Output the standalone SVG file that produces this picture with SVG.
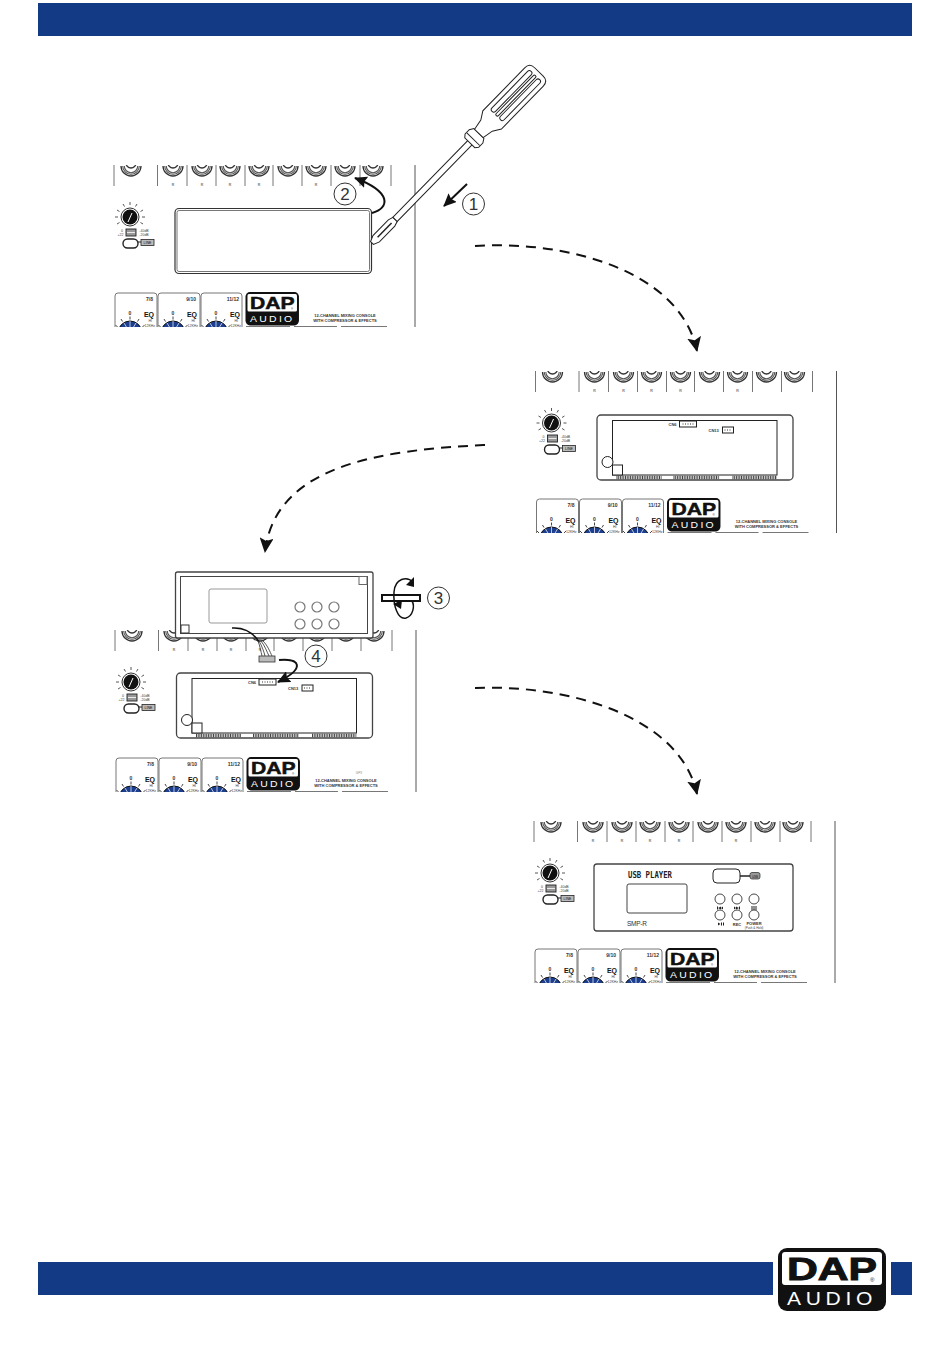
<svg xmlns="http://www.w3.org/2000/svg" xmlns:xlink="http://www.w3.org/1999/xlink" width="950" height="1369" viewBox="0 0 950 1369">
<style>
text{font-family:"Liberation Sans",Arial,sans-serif;fill:#222}
.bar{fill:#133a85}
.tick{stroke:#777;stroke-width:1;fill:none}
.long{stroke:#555;stroke-width:1;fill:none}
.jk{fill:none;stroke:#555;stroke-width:1.100}
.jkd{fill:none;stroke:#333;stroke-width:1.300}
.t3{font-size:3.500px;fill:#444}
.t4{font-size:4px;font-weight:bold;fill:#333}
.t5{font-size:5px;font-weight:bold;fill:#333}
.eq{font-size:7px;font-weight:bold;fill:#111}
.outer{fill:#fff;stroke:#444;stroke-width:1.300}
.inner{fill:#fff;stroke:#222;stroke-width:1}
.strip{fill:none;stroke:#444;stroke-width:3.500;stroke-dasharray:1 .7}
.num{fill:#fff;stroke:#333;stroke-width:1}
.numt{font-family:"Liberation Sans",Arial,sans-serif;font-size:17px;text-anchor:middle;fill:#333}
.btn{fill:#fff;stroke:#777;stroke-width:1.200}
.ubtn{fill:#fff;stroke:#333;stroke-width:.9}
.ico{fill:#222}
.dash{fill:none;stroke:#111;stroke-width:2;stroke-dasharray:10 7}
.arr{fill:none;stroke:#111;stroke-width:2}
.sd{fill:#fff;stroke:#222;stroke-width:1}
</style>
<defs>
<marker id="head" markerUnits="userSpaceOnUse" markerWidth="16" markerHeight="14" refX="14" refY="7" orient="auto"><path d="M0 0L15 7L0 14L3 7Z" fill="#111"/></marker>
<marker id="head2" markerUnits="userSpaceOnUse" markerWidth="14" markerHeight="12" refX="12" refY="6" orient="auto"><path d="M0 0L13 6L0 12L2 6Z" fill="#111"/></marker>
<clipPath id="panelclip"><rect x="110" y="165" width="310" height="162"/></clipPath>
<g id="jack"><path class="jkd" d="M-10 1A10 10 0 0 0 10 1"/><path class="jk" d="M-8.300 1A8.300 8.300 0 0 0 8.300 1M-6.700 1A6.700 6.700 0 0 0 6.700 1"/><path class="jkd" d="M-5 -2A5 5 0 1 0 5 -2"/></g>
<g id="logo">
<rect x="0" y="0" width="108" height="63" rx="9" fill="#111"/>
<rect x="4" y="4" width="100" height="33" rx="3" fill="#fff"/>
<text x="9" y="32" font-size="32" font-weight="bold" textLength="90" lengthAdjust="spacingAndGlyphs" style="fill:#111;stroke:#111;stroke-width:1">DAP</text>
<text x="92" y="34" font-size="6" style="fill:#111">®</text>
<text x="9" y="57" font-size="18" textLength="90" lengthAdjust="spacingAndGlyphs" style="fill:#fff;letter-spacing:4px">AUDIO</text>
</g>
<g id="eqknob">
<circle cx="0" cy="20" r="12" fill="#1d3f8f" stroke="#111" stroke-width="1"/>
<path d="M0 8V20M-6 10L0 20M6 10L0 20" stroke="#fff" stroke-width=".7"/>
<path d="M0 3.500V6.500M-9 6L-7.500 8.500M9 6L7.500 8.500M-14.500 12L-12.500 14M14.500 12L12.500 14" stroke="#333" stroke-width=".9"/>
<text x="0" y="2" class="t5" text-anchor="middle">0</text>
</g>
<g id="console">
<g clip-path="url(#panelclip)">
<path class="tick" d="M114 165V186M157.500 165V186M187 165V186M216 165V186M245 165V186M273 165V186M302 165V186M331 165V186M360 165V186M391 165V186"/>
<path class="long" d="M415 165V327"/>
<use href="#jack" x="131" y="165"/><use href="#jack" x="173" y="165"/><use href="#jack" x="202" y="165"/><use href="#jack" x="230" y="165"/><use href="#jack" x="259" y="165"/><use href="#jack" x="288" y="165"/><use href="#jack" x="316" y="165"/><use href="#jack" x="345" y="165"/><use href="#jack" x="373" y="165"/>
<g class="t3" text-anchor="middle"><text x="173" y="186">R</text><text x="202" y="186">R</text><text x="230" y="186">R</text><text x="259" y="186">R</text><text x="316" y="186">R</text></g>
<circle cx="130" cy="217" r="9" fill="#fff" stroke="#333" stroke-width="1"/>
<circle cx="130" cy="217" r="7.500" fill="#111"/>
<path d="M128 222L132 213" stroke="#fff" stroke-width="1"/>
<path d="M130 202V205M137 204L135.500 206.500M143 210L140.500 211.500M145 217H142M143 224L140.500 222.500M123 204L124.500 206.500M117 210L119.500 211.500M115 217H118M117 224L119.500 222.500" stroke="#444" stroke-width=".9"/>
<rect x="126" y="229" width="10" height="7" fill="#999" stroke="#222" stroke-width=".9"/>
<path d="M127 232.500H135" stroke="#fff" stroke-width=".8"/>
<text x="122" y="231.500" class="t3" text-anchor="middle">0</text>
<text x="120.500" y="235.500" class="t3" text-anchor="middle">+22</text>
<text x="144" y="231.500" class="t3" text-anchor="middle">-40dB</text>
<text x="144" y="235.500" class="t3" text-anchor="middle">-20dB</text>
<rect x="123" y="239" width="15" height="9" rx="4.500" fill="#fff" stroke="#222" stroke-width="1.400"/>
<path d="M138 242H141" stroke="#222" stroke-width="1"/>
<rect x="141" y="239.500" width="13" height="6" fill="#bbb" stroke="#222" stroke-width=".8"/>
<text x="147.500" y="244" class="t3" text-anchor="middle" style="fill:#111">LINE</text>
<path class="tick" d="M115 327V296Q115 293 118 293H154Q157 293 157 296V327M158 327V296Q158 293 161 293H197Q200 293 200 296V327M201 327V296Q201 293 204 293H239Q242 293 242 296V327"/>
<text x="153" y="301" class="t5" text-anchor="end">7/8</text>
<text x="196" y="301" class="t5" text-anchor="end">9/10</text>
<text x="239" y="301" class="t5" text-anchor="end">11/12</text>
<use href="#eqknob" x="130" y="313"/><use href="#eqknob" x="173" y="313"/><use href="#eqknob" x="216" y="313"/>
<text x="154" y="317" class="eq" text-anchor="end">EQ</text><text x="197" y="317" class="eq" text-anchor="end">EQ</text><text x="240" y="317" class="eq" text-anchor="end">EQ</text>
<text x="152" y="322" class="t3" text-anchor="end">HI</text><text x="195" y="322" class="t3" text-anchor="end">HI</text><text x="238" y="322" class="t3" text-anchor="end">HI</text>
<text x="155" y="327" class="t3" text-anchor="end">12KHz</text><text x="198" y="327" class="t3" text-anchor="end">12KHz</text><text x="241" y="327" class="t3" text-anchor="end">12KHz</text>
<use href="#logo" transform="translate(245.500 292) scale(.495 .53)"/>
<text x="345" y="317" class="t4" text-anchor="middle">12-CHANNEL MIXING CONSOLE</text>
<text x="345" y="322" class="t4" text-anchor="middle">WITH COMPRESSOR &amp; EFFECTS</text>
<path d="M246 326.500H290M294 326.500H337M341 326.500H387" stroke="#777" stroke-width="1.200"/>
</g>
</g>
<g id="opened">
<rect class="outer" x="175.500" y="209" width="196" height="65" rx="4"/>
<rect class="inner" x="191" y="214.500" width="164.500" height="54.500"/>
<circle class="inner" cx="186" cy="256" r="5.500"/>
<rect class="inner" x="191" y="259" width="10" height="10"/>
<path class="strip" d="M195 271.500H240M252 271.500H298M311 271.500H355.500"/>
<rect class="inner" x="258" y="215" width="17" height="6"/>
<text x="247" y="220" class="t4">CN6</text>
<path d="M261 218H273" stroke="#333" stroke-width="1.200" stroke-dasharray="1 1.500"/>
<rect class="inner" x="301" y="221" width="11" height="6"/>
<text x="287" y="226" class="t4">CN13</text>
<path d="M303 224H310" stroke="#333" stroke-width="1.200" stroke-dasharray="1 1.500"/>
</g>
</defs>

<rect width="950" height="1369" fill="#fff"/>
<rect id="header-bar" class="bar" x="38" y="3" width="874" height="33"/>
<g id="footer">
<rect class="bar" x="38" y="1262" width="735" height="33"/>
<rect class="bar" x="891" y="1262" width="21" height="33"/>
<use href="#logo" x="778" y="1248"/>
</g>

<g id="panel-1">
<use href="#console"/>
<rect x="175" y="208.500" width="196.500" height="65" rx="4" fill="#fff" stroke="#333" stroke-width="1.200"/>
<rect x="177" y="210.500" width="192.500" height="61" rx="2" fill="#fff" stroke="#777" stroke-width="1"/>
</g>
<g id="screwdriver" transform="translate(372 243) rotate(-45.700)">
<path class="sd" d="M0 -2L6 -4.500L28 -4.500L33 -3V3L28 4.500L6 4.500L0 2Z"/>
<path d="M8 0H28" stroke="#222" stroke-width="1.500"/>
<rect class="sd" x="33" y="-3" width="108" height="6"/>
<path class="sd" d="M140 -7L143 -9.500H149L153 -7V7L149 9.500H143L140 7Z"/>
<path d="M145 -9V9" stroke="#222" stroke-width="1"/>
<path class="sd" d="M153 -6L164 -8L172 -13H232Q239 -13 239 -6V6Q239 13 232 13H172L164 8L153 6Z"/>
<rect class="sd" x="178" y="-8.500" width="56" height="5" rx="2.500"/>
<rect class="sd" x="178" y="-1.500" width="56" height="3" rx="1.500"/>
<rect class="sd" x="178" y="3.500" width="56" height="5" rx="2.500"/>
</g>
<g id="step-1"><circle class="num" cx="473.500" cy="204" r="11"/><text class="numt" x="473.500" y="210">1</text></g>
<g id="step-2"><circle class="num" cx="345" cy="194" r="11"/><text class="numt" x="345" y="200">2</text></g>

<g id="panel-2" transform="translate(421.500 206)">
<use href="#console"/>
<use href="#opened"/>
</g>

<g id="panel-3" transform="translate(1 465)">
<use href="#console"/>
<use href="#opened" transform="translate(0 -1)"/>
<text x="358" y="309" style="font-size:3px;fill:#888" text-anchor="middle">GPX</text>
</g>
<g id="back-panel">
<rect class="outer" x="175.500" y="572" width="197.500" height="66" rx="2"/>
<rect fill="#fff" stroke="#444" stroke-width="1" x="180.500" y="576.500" width="187" height="57"/>
<rect x="209" y="589" width="58" height="34" rx="2" fill="#fff" stroke="#999" stroke-width="1"/>
<circle class="btn" cx="300" cy="607" r="5"/><circle class="btn" cx="317" cy="607" r="5"/><circle class="btn" cx="334" cy="607" r="5"/>
<circle class="btn" cx="300" cy="624" r="5"/><circle class="btn" cx="317" cy="624" r="5"/><circle class="btn" cx="334" cy="624" r="5"/>
<rect x="359" y="576.500" width="8" height="8" fill="#fff" stroke="#666"/>
<rect x="181" y="625" width="8" height="8" fill="#fff" stroke="#333"/>
</g>
<g id="cable">
<path d="M232 628C246 627 254 634 259 642" fill="none" stroke="#111" stroke-width="1.500"/>
<path d="M258 641C260 646 261 652 262 656M259 641C262 646 264 652 265 656M261 641C265 646 267 652 269 656M263 641C268 646 270 652 272 656" fill="none" stroke="#444" stroke-width=".9"/>
<rect x="259" y="656" width="16" height="6" fill="#bbb" stroke="#333" stroke-width=".8"/>
</g>
<g id="step-3">
<rect x="382" y="595" width="38" height="6" fill="#fff" stroke="#111" stroke-width="2"/>
<path d="M413 582C407 576 395 578 394 592C393 606 398 620 406 618C413 616 415 606 412 601" fill="none" stroke="#111" stroke-width="1.500"/>
<path d="M406 585L414 577L414 587Z" fill="#111"/>
<path d="M393 604L402 600L401 609Z" fill="#111"/>
<circle class="num" cx="438.500" cy="598" r="11"/><text class="numt" x="438.500" y="604">3</text>
</g>
<g id="step-4"><circle class="num" cx="316" cy="656" r="11"/><text class="numt" x="316" y="662">4</text></g>

<g id="panel-4" transform="translate(420 656)">
<use href="#console"/>
<rect class="outer" x="174" y="208" width="199" height="67" rx="3"/>
<text x="208" y="222" style="font-family:'DejaVu Sans Mono',monospace;font-size:8px;font-weight:bold;fill:#222" textLength="44" lengthAdjust="spacingAndGlyphs">USB PLAYER</text>
<rect x="207" y="228" width="60" height="29" rx="2" fill="#fff" stroke="#444"/>
<text x="207" y="270" style="font-size:6.500px;fill:#333" textLength="20">SMP-R</text>
<rect x="293" y="213" width="27" height="14" rx="4" fill="#fff" stroke="#222"/>
<path d="M320 220H331" stroke="#222" stroke-width="1.500"/>
<rect x="330" y="216.500" width="10" height="6.500" rx="2" fill="#999" stroke="#222" stroke-width=".7"/>
<text x="335" y="221.500" class="t3" text-anchor="middle" style="fill:#111;font-size:3px">USB</text>
<circle class="ubtn" cx="300" cy="243" r="5"/><circle class="ubtn" cx="317" cy="243" r="5"/><circle class="ubtn" cx="334" cy="243" r="5"/>
<circle class="ubtn" cx="300" cy="259" r="5"/><circle class="ubtn" cx="317" cy="259" r="5"/><circle class="ubtn" cx="334" cy="259" r="5"/>
<path class="ico" d="M297 250.500h1v3h-1zM301 250.500v3l-3-1.500zM303 250.500v3l-2-1.500zM314 250.500v3l2-1.500zM316 250.500v3l3-1.500zM319 250.500h1v3h-1zM331 250.500h6v1h-6zM331 252.500h6v1h-6zM298 266.500v3l2.500-1.500zM301 266.500h1v3h-1zM303 266.500h1v3h-1z"/>
<text x="317" y="270" class="t4" text-anchor="middle">REC</text>
<text x="334" y="269" class="t4" text-anchor="middle">POWER</text>
<text x="334" y="273" class="t3" text-anchor="middle" style="font-size:3px">(Push &amp; Hold)</text>
</g>

<g id="connectors">
<path class="dash" d="M475 246C565 240 680 270 697 351" marker-end="url(#head)"/>
<path class="dash" d="M485 445C380 450 275 465 265 552" marker-end="url(#head)"/>
<path class="dash" d="M475 688C565 684 680 715 697 794" marker-end="url(#head)"/>
<path class="arr" d="M467 184L444 206" marker-end="url(#head2)"/>
<path class="arr" d="M372 213C390 208 392 192 355 178" marker-end="url(#head2)"/>
<path class="arr" d="M279 660C300 658 306 668 278 682" marker-end="url(#head2)"/>
</g>
</svg>
